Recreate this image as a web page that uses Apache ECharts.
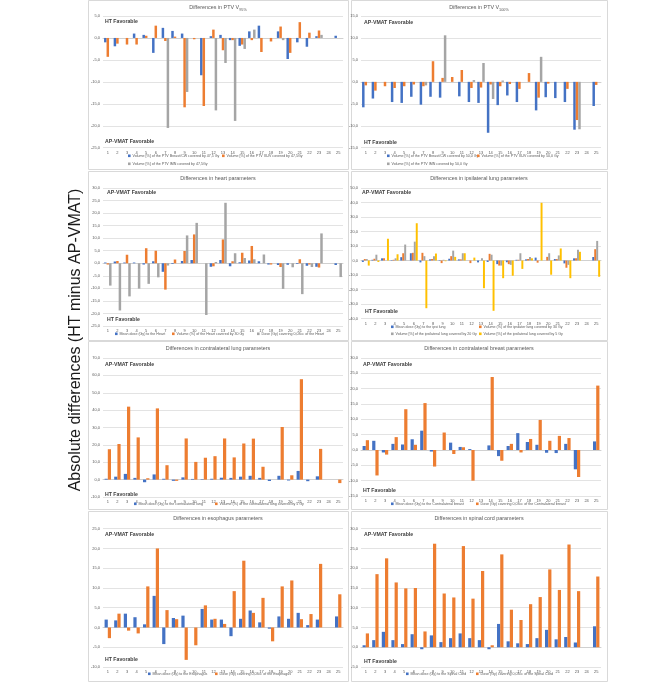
<!DOCTYPE html>
<html><head><meta charset="utf-8">
<script src="https://cdn.jsdelivr.net/npm/echarts/dist/echarts.min.js"></script>
<style>html,body{margin:0;padding:0;background:#fff}#c{width:669px;height:682px}</style>
</head><body><div id="c"></div>
<script>
const categories = ['1','2','3','4','5','6','7','8','9','10','11','12','13','14','15','16','17','18','19','20','21','22','23','24','25'];

// Panel 1: PTV V95%
const ptv95Breast = [-1.0,-1.9,0,1.0,0.7,-3.4,2.3,1.6,1.0,0,-8.5,0.4,0.7,-0.5,-1.8,1.5,2.8,0,1.5,-4.8,-1.0,-2.0,0.4,0,0.5];
const ptv95Axilla = [-4.3,-1.3,-1.5,-1.5,0.5,2.8,-0.7,0.3,-15.8,-0.3,-15.5,1.9,-2.8,-0.5,-1.5,-0.5,-3.2,-0.8,2.6,-3.4,3.6,1.2,1.7,0,0];
const ptv95Imn = [0,0,0,0,0,0,-20.5,0,-12.3,0,0,-16.5,-5.7,-18.9,-2.5,1.9,0,0,-0.5,0,0,0,0.7,0,0];
// Panel 2: PTV V100%
const ptv100Breast = [-5.8,-3.8,0,-4.6,-4.8,-3.4,-5.2,-3.4,-3.6,0,-3.3,-4.6,-4.8,-11.6,-5.3,-3.1,-4.6,0,-6.5,-3.5,-3.7,-4.6,-10.9,0,-5.5];
const ptv100Axilla = [-0.8,-2.0,-1.0,-1.4,-1.0,-0.6,-1.0,4.7,0.9,1.1,2.7,-1.4,-1.3,-0.6,-1.0,-0.5,-1.6,2.0,-3.6,-0.4,0,-1.6,-8.7,0,-0.7];
const ptv100Imn = [0,0,0,0,0,0,-0.8,0,10.6,0,0,0.4,4.3,-3.9,0.3,0,0,0,5.7,0,0,0,-10.8,0,0];
// Panel 3: heart
const heartMean = [0.3,0.7,0.3,0.3,-0.5,0.8,-3.4,-0.3,0.9,1.3,0,-1.4,1.3,-1.2,0.4,1.1,0.8,-0.5,-0.7,-0.6,-0.3,-1.0,-1.4,0,-0.7];
const heartV = [-0.5,0.9,3.4,0,6.0,5.0,-10.5,1.5,4.9,11.5,0,-1.2,9.5,0.8,4.2,6.9,0,-0.5,-1.5,0,1.6,-0.5,-1.7,0,0];
const heartD = [-8.9,-18.8,-13.2,-10.1,-8.2,-5.6,-0.9,0,11.1,16.1,-20.6,0.5,24.1,4.0,2.1,1.6,3.5,0,-10.2,-1.6,-12.3,-1.5,11.9,0,-5.5];
// Panel 4: ipsilateral lung
const ipsiMean = [-1.0,0.5,1.5,0.3,2.3,5.0,-1.3,0.8,-0.3,1.2,0.8,0,-1.3,-1.0,-2.5,-1.2,0.5,0.8,2.0,0,1.0,-2.0,1.5,0,2.4];
const ipsiV30 = [1.0,1.2,1.5,0.5,5.0,5.3,5.3,1.0,-1.8,3.0,0.8,-1.8,0,4.6,-3.5,-2.5,0.5,1.0,-1.5,2.5,1.0,-5.0,1.5,0,7.8];
const ipsiV20 = [1.0,4.0,0,1.5,11.0,13.0,3.0,3.0,0.5,6.8,5.0,0,1.5,4.0,-3.5,-3.0,5.0,2.5,0,5.0,3.5,-3.0,7.5,0,13.5];
const ipsiV5 = [-3.5,-1.0,15.0,4.3,0,25.7,-32.9,4.8,-0.5,2.5,5.0,2.0,-19.1,-34.7,-12.2,-10.5,-5.8,1.5,39.8,-9.8,8.3,-12.2,6.0,0,-11.2];
// Panel 5: contralateral lung
const contraMean = [0.5,1.7,3.3,1.0,-1.5,3.0,0.5,-0.7,1.3,0.4,0.3,0.5,1.1,1.0,1.7,2.2,1.0,-0.8,2.2,-0.5,5.0,-0.9,1.9,0,0];
const contraV5 = [17.5,20.5,42.0,24.3,0.8,41.0,8.3,-0.7,23.7,10.2,12.6,13.5,23.7,12.8,20.8,23.6,7.4,0,30.3,2.5,57.8,0,17.7,0,-2.0];
// Panel 6: contralateral breast
const breastMean = [1.3,3.0,-0.8,2.0,1.8,3.5,6.3,-0.5,0,2.4,1.0,0.3,0,1.5,-2.0,1.3,5.5,2.6,1.7,-0.9,-1.0,2.0,-6.3,0,2.8];
const breastD = [3.2,-8.3,-1.5,4.2,13.3,1.7,15.3,-5.4,5.7,-1.3,0.9,-10.0,0,23.8,-3.5,2.0,-0.8,3.6,9.8,3.0,4.6,3.9,-8.8,0,21.0];
// Panel 7: esophagus
const esoMean = [2.0,1.8,3.5,2.6,0.8,8.0,-4.2,2.4,3.0,0,4.7,2.0,2.0,-2.2,2.2,4.3,1.3,-0.3,2.8,2.2,3.7,0.6,2.0,0,2.8];
const esoD = [-2.7,3.5,-0.8,-1.5,10.4,20.0,4.4,2.1,-8.2,-4.5,5.6,2.2,0.9,9.2,16.9,3.7,7.5,-3.5,10.4,11.9,2.1,3.4,16.1,0,8.4];
// Panel 8: spinal cord
const cordMean = [0.5,1.8,3.9,1.8,0.8,3.3,-0.5,3.0,1.3,2.3,3.5,2.3,1.8,-0.5,5.9,1.5,1.0,0.8,2.3,4.4,2.0,2.6,1.2,0,5.3];
const cordD = [3.5,18.5,22.5,16.4,14.9,15.0,4.0,26.2,13.6,12.6,25.6,12.3,19.3,0.5,23.5,9.5,6.9,10.9,12.7,19.7,14.5,26.0,14.2,0,17.9];

const BLUE = '#4472C4', ORANGE = '#ED7D31', GRAY = '#A5A5A5', YELLOW = '#FFC000';

const panels = [
  { title: 'Differences in PTV V{s|95%}', box: [88, 0, 260, 169], plot: [103, 16, 240, 131.7], min: -25, max: 5, step: 5, gap: '22%',
    series: [['Volume [%] of the PTV Breast/CW covered by 47,5 Gy', ptv95Breast, BLUE],
             ['Volume [%] of the PTV III-IV covered by 47,5Gy', ptv95Axilla, ORANGE],
             ['Volume [%] of the PTV IMN covered by 47,5Gy', ptv95Imn, GRAY]],
    legend: [[128, 156], [222, 156], [128, 164]],
    fav: [['HT Favorable', 105, 22], ['AP-VMAT Favorable', 105, 142]] },
  { title: 'Differences in PTV V{s|100%}', box: [351, 0, 256, 169], plot: [361, 16, 240, 131.7], min: -15, max: 15, step: 5, gap: '22%',
    series: [['Volume [%] of the PTV Breast/CW covered by 50,0 Gy', ptv100Breast, BLUE],
             ['Volume [%] of the PTV III-IV covered by 50,0 Gy', ptv100Axilla, ORANGE],
             ['Volume [%] of the PTV IMN covered by 50,0 Gy', ptv100Imn, GRAY]],
    legend: [[387, 156], [477, 156], [387, 164]],
    fav: [['AP-VMAT Favorable', 364, 23], ['HT Favorable', 364, 143]] },
  { title: 'Differences in heart parameters', box: [88, 171, 260, 169], plot: [103, 188, 240, 138], min: -25, max: 30, step: 5, gap: '22%',
    series: [['Mean dose (Gy) to the Heart', heartMean, BLUE],
             ['Volume (%) of the Heart covered by 30 Gy', heartV, ORANGE],
             ['Dose (Gy) covering 0,03cc of the Heart', heartD, GRAY]],
    legend: [[115, 334], [172, 334], [257, 334]],
    fav: [['AP-VMAT Favorable', 107, 193], ['HT Favorable', 107, 320]] },
  { title: 'Differences in ipsilateral lung parameters', box: [351, 171, 256, 169], plot: [361, 188, 240, 130.5], min: -40, max: 50, step: 10, gap: '18%',
    series: [['Mean dose (Gy) to the ipsi lung', ipsiMean, BLUE],
             ['Volume (%) of the ipsilater lung covered by 30 Gy', ipsiV30, ORANGE],
             ['Volume [%] of the ipsilateral lung covered by 20 Gy', ipsiV20, GRAY],
             ['Volume [%] of the ipsilateral lung covered by 5 Gy', ipsiV5, YELLOW]],
    legend: [[391, 327], [479, 327], [391, 334], [479, 334]],
    fav: [['AP-VMAT Favorable', 362, 193], ['HT Favorable', 365, 312]] },
  { title: 'Differences in contralateral lung parameters', box: [88, 341, 260, 168], plot: [103, 358, 240, 139], min: -10, max: 70, step: 10, gap: '33%',
    series: [['Mean dose (Gy) to the contralateral lung', contraMean, BLUE],
             ['Volume (%) of the contralateral lung covered by 5 Gy', contraV5, ORANGE]],
    legend: [[134, 504], [215, 504]],
    fav: [['AP-VMAT Favorable', 105, 365], ['HT Favorable', 105, 495]] },
  { title: 'Differences in contralateral breast parameters', box: [351, 341, 256, 168], plot: [361, 358, 240, 138], min: -15, max: 30, step: 5, gap: '33%',
    series: [['Mean dose (Gy) to the Contralateral breast', breastMean, BLUE],
             ['Dose (Gy) covering 0,03cc of the Contralateral breast', breastD, ORANGE]],
    legend: [[391, 504], [476, 504]],
    fav: [['AP-VMAT Favorable', 363, 365], ['HT Favorable', 363, 491]] },
  { title: 'Differences in esophagus parameters', box: [88, 511, 260, 170], plot: [103, 528.7, 240, 138.3], min: -10, max: 25, step: 5, gap: '33%',
    series: [['Mean dose (Gy) to the Esophagus', esoMean, BLUE],
             ['Dose (Gy) covering 0,03cc of the Esophagus', esoD, ORANGE]],
    legend: [[148, 674], [215, 674]],
    fav: [['AP-VMAT Favorable', 105, 535], ['HT Favorable', 105, 660]] },
  { title: 'Differences in spinal cord parameters', box: [351, 511, 256, 170], plot: [361, 528.7, 240, 138.3], min: -5, max: 30, step: 5, gap: '33%',
    series: [['Mean dose (Gy) to the Spinal Cord', cordMean, BLUE],
             ['Dose (Gy) covering 0,03cc of the Spinal Cord', cordD, ORANGE]],
    legend: [[406, 674], [476, 674]],
    fav: [['AP-VMAT Favorable', 364, 535], ['HT Favorable', 364, 662]] }
];

const FONT = 'Liberation Sans, Arial, sans-serif';
const fmt = v => v.toFixed(1).replace('.', ',');

const grid = [], xAxis = [], yAxis = [], series = [], legend = [], graphic = [];
panels.forEach((p, i) => {
  const [x, y, w, h] = p.plot;
  grid.push({ left: x, top: y, width: w, height: h, containLabel: false });
  xAxis.push({ type: 'category', gridIndex: i, data: categories,
    axisLine: { onZero: true, lineStyle: { color: '#d0d0d0', width: 1 } },
    axisTick: { show: false },
    axisLabel: { interval: 0, fontSize: 4, color: '#595959', margin: 3, fontFamily: FONT } });
  yAxis.push({ type: 'value', gridIndex: i, min: p.min, max: p.max, interval: p.step,
    axisLine: { show: false }, axisTick: { show: false },
    splitLine: { lineStyle: { color: '#e3e3e3', width: 1 } },
    axisLabel: { fontSize: 4, color: '#595959', margin: 3, fontFamily: FONT, formatter: fmt } });
  p.series.forEach((s, k) => {
    series.push({ type: 'bar', name: s[0], data: s[1], xAxisIndex: i, yAxisIndex: i,
      itemStyle: { color: s[2] }, barGap: '0%', barCategoryGap: p.gap, silent: true });
    const lp = p.legend[k];
    legend.push({ data: [s[0]], left: lp[0], top: lp[1] - 2.2, padding: 0, itemGap: 0,
      itemWidth: 2.6, itemHeight: 2.6, icon: 'rect', selectedMode: false,
      textStyle: { fontSize: 3.6, color: '#595959', fontFamily: FONT, padding: [0, 0, 0, -3] } });
  });
  const [bx, by, bw, bh] = p.box;
  graphic.push({ type: 'rect', shape: { x: bx + 0.5, y: by + 0.5, width: bw, height: bh },
    style: { fill: 'none', stroke: '#d9d9d9', lineWidth: 1 }, silent: true });
  graphic.push({ type: 'text', x: bx + bw / 2, y: by + 8,
    style: { text: p.title, font: '5.4px ' + FONT, fill: '#595959', textAlign: 'center', textVerticalAlign: 'middle',
      rich: { s: { fontSize: 3.8, fontFamily: FONT, fill: '#595959', padding: [3, 0, 0, 0] } } }, silent: true });
  p.fav.forEach(f => {
    graphic.push({ type: 'text', x: f[1], y: f[2],
      style: { text: f[0], font: 'bold 5.2px ' + FONT, fill: '#404040', textAlign: 'left', textVerticalAlign: 'middle' }, silent: true });
  });
});
graphic.push({ type: 'text', x: 76, y: 340, rotation: Math.PI / 2,
  style: { text: 'Absolute differences (HT minus AP-VMAT)', font: '16px ' + FONT, fill: '#1a1a1a', textAlign: 'center', textVerticalAlign: 'middle' }, silent: true });

const chart = echarts.init(document.getElementById('c'), null, { renderer: 'canvas' });
chart.setOption({ animation: false, backgroundColor: '#fff', textStyle: { fontFamily: FONT },
  grid, xAxis, yAxis, series, legend, graphic });
</script></body></html>
